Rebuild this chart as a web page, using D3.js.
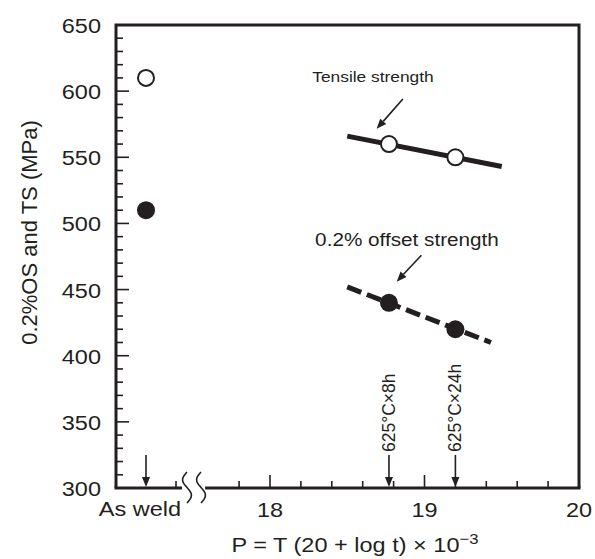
<!DOCTYPE html>
<html>
<head>
<meta charset="utf-8">
<script src="https://cdn.jsdelivr.net/npm/d3@7"></script>
<style>
  body { margin: 0; background: #fff; }
  text { font-family: "Liberation Sans", Arial, sans-serif; fill: #231f20; }
</style>
</head>
<body>
<svg id="chart" width="595" height="559"></svg>
<script>
// data
const asWeld = ['As weld'];
const asWeldTS = [610];
const asWeldOS = [510];
const temperP = [18.77, 19.2];
const temperTS = [560, 550];
const temperOS = [440, 420];
const temperLabels = ['625°C×8h', '625°C×24h'];
const tsFitP = [18.5, 19.5];
const tsFitV = [566, 543];
const osFitP = [18.5, 19.43];
const osFitV = [452, 410];
const yTicks = [300, 350, 400, 450, 500, 550, 600, 650];
const xTicks = [18, 19, 20];

const INK = '#231f20';
const SX = 1.12; // glyphs in the source are a bit wide

const margin = {left: 116, right: 16, top: 25, bottom: 71};
const W = 595, H = 559;
const pLeft = margin.left, pRight = W - margin.right;
const pTop = margin.top, pBottom = H - margin.bottom;

const y = d3.scaleLinear().domain([300, 650]).range([pBottom, pTop]);
const x = d3.scaleLinear().domain([18, 20]).range([270, pRight]);
const xWeld = d3.scaleBand().domain(asWeld).range([pLeft, 176]);
const breakStart = 17.58;

const svg = d3.select('#chart');

const label = (g, tx, ty, str, size, anchor) => g.append('text')
    .attr('transform', `translate(${tx},${ty}) scale(${SX},1)`)
    .attr('text-anchor', anchor || 'middle')
    .style('font-size', size + 'px')
    .text(str);

const arrow = (g, x1, y1, x2, y2, head) => {
    const a = Math.atan2(y2 - y1, x2 - x1);
    const len = head || 10, half = 4;
    const bx = x2 - len * Math.cos(a), by = y2 - len * Math.sin(a);
    g.append('line')
        .attr('x1', x1).attr('y1', y1).attr('x2', bx).attr('y2', by)
        .attr('stroke', INK).attr('stroke-width', 1.6);
    g.append('path')
        .attr('d', `M${x2},${y2}L${bx - half * Math.sin(a)},${by + half * Math.cos(a)}L${bx + half * Math.sin(a)},${by - half * Math.cos(a)}Z`)
        .attr('fill', INK);
};

// frame
const frame = svg.append('g');
frame.append('path')
    .attr('d', `M${pLeft},${pBottom}V${pTop}H${pRight}V${pBottom}`)
    .attr('fill', 'none').attr('stroke', INK).attr('stroke-width', 3);
frame.append('line')
    .attr('x1', pLeft - 1.5).attr('x2', 182).attr('y1', pBottom).attr('y2', pBottom)
    .attr('stroke', INK).attr('stroke-width', 3);
frame.append('line')
    .attr('x1', x(breakStart)).attr('x2', pRight + 1.5).attr('y1', pBottom).attr('y2', pBottom)
    .attr('stroke', INK).attr('stroke-width', 3);

// axis break marks
const squiggle = d3.line().curve(d3.curveBasis);
[187, 201].forEach(cx => {
    const pts = d3.range(0, 1.001, 1 / 16).map(t => [cx - 4.5 * Math.sin(2 * Math.PI * t), pBottom - 16 + 31 * t]);
    frame.append('path')
        .attr('d', squiggle(pts))
        .attr('fill', 'none').attr('stroke', INK).attr('stroke-width', 1.6);
});

// y ticks
const yMinor = d3.range(310, 650, 10);
frame.selectAll('.ytick').data(yMinor).join('line')
    .attr('x1', pLeft).attr('x2', d => pLeft + (d % 50 === 0 ? 13 : 7))
    .attr('y1', d => y(d)).attr('y2', d => y(d))
    .attr('stroke', INK).attr('stroke-width', 1.6);
yTicks.forEach(v => label(frame, 101, y(v) + 8, v, 21, 'end'));

// x ticks
const xMinor = d3.range(17.8, 19.9, 0.2).map(v => Math.round(v * 10) / 10);
frame.selectAll('.xtick').data(xMinor).join('line')
    .attr('x1', d => x(d)).attr('x2', d => x(d))
    .attr('y1', pBottom).attr('y2', d => pBottom - (Number.isInteger(d) ? 13 : 7))
    .attr('stroke', INK).attr('stroke-width', 1.6);
frame.append('line')
    .attr('x1', xWeld.range()[1]).attr('x2', xWeld.range()[1])
    .attr('y1', pBottom).attr('y2', pBottom - 7)
    .attr('stroke', INK).attr('stroke-width', 1.6);
xTicks.forEach(v => label(frame, x(v), pBottom + 29, v, 21));
asWeld.forEach(d => label(frame, xWeld(d) + xWeld.bandwidth() / 2 - 6, pBottom + 28, d, 21));

// axis titles
svg.append('text')
    .attr('transform', `translate(37,${(pTop + pBottom) / 2 - 24}) rotate(-90)`)
    .attr('text-anchor', 'middle')
    .style('font-size', '22px')
    .text('0.2%OS and TS (MPa)');
const xt = label(svg, 355, 552, '', 21);
xt.append('tspan').text('P = T (20 + log t) × 10');
xt.append('tspan').attr('dy', -8).style('font-size', '15px').text('−3');

// fitted lines
const line = d3.line().x(d => x(d[0])).y(d => y(d[1]));
svg.append('path')
    .attr('d', line(d3.zip(tsFitP, tsFitV)))
    .attr('fill', 'none').attr('stroke', INK).attr('stroke-width', 5);
svg.append('path')
    .attr('d', line(d3.zip(osFitP, osFitV)))
    .attr('fill', 'none').attr('stroke', INK).attr('stroke-width', 5)
    .attr('stroke-dasharray', '15,6');

// points
const cxWeld = xWeld(asWeld[0]) + xWeld.bandwidth() / 2;
svg.selectAll('.ts').data(asWeldTS.map(v => [cxWeld, v]).concat(temperP.map((p, i) => [x(p), temperTS[i]])))
    .join('circle')
    .attr('cx', d => d[0]).attr('cy', d => y(d[1])).attr('r', 8)
    .attr('fill', '#fff').attr('stroke', INK).attr('stroke-width', 2);
svg.selectAll('.os').data(asWeldOS.map(v => [cxWeld, v]).concat(temperP.map((p, i) => [x(p), temperOS[i]])))
    .join('circle')
    .attr('cx', d => d[0]).attr('cy', d => y(d[1])).attr('r', 9)
    .attr('fill', INK);

// condition markers
const ann = svg.append('g');
arrow(ann, cxWeld, pBottom - 33, cxWeld, pBottom - 1);
temperP.forEach((p, i) => {
    arrow(ann, x(p), pBottom - 33, x(p), pBottom - 1);
    ann.append('text')
        .attr('transform', `translate(${x(p) + 6},${pBottom - 36}) rotate(-90)`)
        .style('font-size', '17.5px')
        .text(temperLabels[i]);
});

// series callouts
label(ann, 373, 82, 'Tensile strength', 15.5);
arrow(ann, x(18.86), y(594), x(18.69), y(571.5));
label(ann, 407, 246, '0.2% offset strength', 18.5);
arrow(ann, x(18.98), y(476), x(18.82), y(456));
</script>
</body>
</html>
